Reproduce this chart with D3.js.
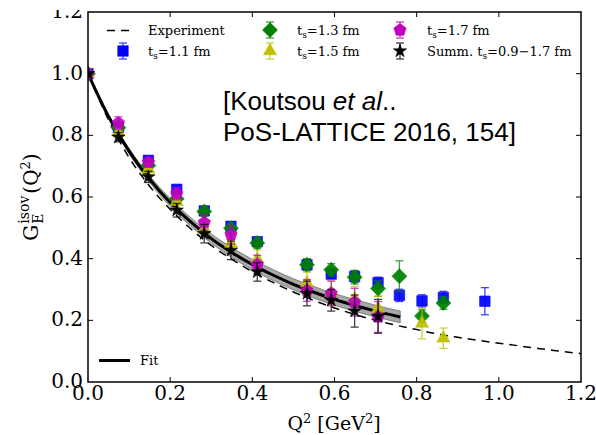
<!DOCTYPE html>
<html>
<head>
<meta charset="utf-8">
<script src="https://cdn.jsdelivr.net/npm/d3@7"></script>
<style>
  body { margin: 0; background: #fff; }
  svg { display: block; }
</style>
</head>
<body>
<script>
// momentum transfers (GeV^2) where the lattice points sit
var q2 = [0, 0.074, 0.147, 0.216, 0.283, 0.348, 0.412, 0.533, 0.592, 0.649, 0.706, 0.758, 0.813, 0.865, 0.966];

// t_s = 1.1 fm (blue squares), every q2
var g11 = [1.0, 0.825, 0.719, 0.625, 0.555, 0.505, 0.455, 0.38, 0.35, 0.342, 0.322, 0.281, 0.263, 0.274, 0.262];
var e11 = [0.003, 0.008, 0.01, 0.012, 0.012, 0.014, 0.014, 0.016, 0.016, 0.018, 0.018, 0.02, 0.02, 0.02, 0.044];

// t_s = 1.3 fm (green diamonds), q2 up to 0.865
var g13 = [1.0, 0.825, 0.702, 0.594, 0.553, 0.499, 0.451, 0.38, 0.364, 0.34, 0.303, 0.343, 0.214, 0.256];
var e13 = [0.004, 0.01, 0.012, 0.014, 0.015, 0.016, 0.017, 0.02, 0.02, 0.022, 0.025, 0.05, 0.02, 0.02];

// t_s = 1.5 fm (yellow triangles)
var q15 = [0, 0.074, 0.147, 0.216, 0.283, 0.348, 0.412, 0.533, 0.592, 0.649, 0.706, 0.813, 0.865];
var g15 = [1.0, 0.81, 0.69, 0.585, 0.497, 0.449, 0.398, 0.321, 0.29, 0.27, 0.238, 0.19, 0.142];
var e15 = [0.005, 0.015, 0.018, 0.02, 0.025, 0.027, 0.03, 0.035, 0.04, 0.04, 0.04, 0.05, 0.033];

// t_s = 1.7 fm (magenta pentagons), q2 up to 0.706
var g17 = [1.0, 0.84, 0.713, 0.611, 0.517, 0.478, 0.381, 0.297, 0.287, 0.259, 0.211];
var e17 = [0.005, 0.02, 0.015, 0.02, 0.025, 0.03, 0.03, 0.035, 0.04, 0.045, 0.05];

// summation method (black stars)
var gSum = [1.0, 0.794, 0.665, 0.557, 0.481, 0.427, 0.357, 0.287, 0.265, 0.23, 0.213];
var eSum = [0.005, 0.015, 0.018, 0.022, 0.03, 0.03, 0.03, 0.04, 0.035, 0.052, 0.055];

// fit curve + band
var fitQ2 = [0, 0.05, 0.1, 0.15, 0.2, 0.25, 0.3, 0.35, 0.4, 0.45, 0.5, 0.55, 0.6, 0.65, 0.7, 0.76];
var fitG  = [1.0, 0.861, 0.749, 0.658, 0.582, 0.519, 0.465, 0.42, 0.381, 0.347, 0.317, 0.291, 0.268, 0.248, 0.23, 0.211];
var fitErr = [0.003, 0.006, 0.009, 0.011, 0.013, 0.014, 0.015, 0.016, 0.017, 0.018, 0.018, 0.019, 0.019, 0.019, 0.019, 0.019];

// experiment (dashed)
var expQ2 = [0, 0.05, 0.1, 0.15, 0.2, 0.25, 0.3, 0.35, 0.4, 0.45, 0.5, 0.55, 0.6, 0.65, 0.7, 0.75, 0.8, 0.85, 0.9, 0.95, 1.0, 1.05, 1.1, 1.15, 1.2];
var expG  = [1.0, 0.85, 0.728, 0.635, 0.56, 0.497, 0.443, 0.398, 0.358, 0.323, 0.292, 0.264, 0.24, 0.219, 0.2, 0.184, 0.17, 0.156, 0.145, 0.135, 0.126, 0.117, 0.108, 0.1, 0.092];

var ticks = [0, 0.2, 0.4, 0.6, 0.8, 1.0, 1.2];

var width = 596, height = 435;
var serif = "'DejaVu Serif', serif";

var svg = d3.select("body").append("svg")
    .attr("width", width)
    .attr("height", height);

var x = d3.scaleLinear().domain([0, 1.2]).range([88, 581]);
var y = d3.scaleLinear().domain([0, 1.2]).range([382, 12]);

//clip for the plot area and for the half-cut top label
var defs = svg.append("defs");
defs.append("clipPath").attr("id", "plotclip")
    .append("rect").attr("x", 88).attr("y", 12).attr("width", 493).attr("height", 370);
defs.append("clipPath").attr("id", "topclip")
    .append("rect").attr("x", 0).attr("y", 10).attr("width", width).attr("height", height);

// markers
function diamond(s){
    return "M0," + (-s) + "L" + s + ",0L0," + s + "L" + (-s) + ",0Z";
}
function pentagon(r){
    var pts = d3.range(5).map(function(i){
        var a = -Math.PI / 2 + i * 2 * Math.PI / 5;
        return [r * Math.cos(a), r * Math.sin(a)];
    });
    return "M" + pts.join("L") + "Z";
}
var series = [
    {q: q2,  g: g11,  e: e11,  color: "#0000ff", path: d3.symbol(d3.symbolSquare, 110)(), label: "1.1 fm"},
    {q: q2,  g: g13,  e: e13,  color: "#008000", path: diamond(7.5), label: "1.3 fm"},
    {q: q15, g: g15,  e: e15,  color: "#bfbf00", path: d3.symbol(d3.symbolTriangle, 75)(), label: "1.5 fm"},
    {q: q2,  g: g17,  e: e17,  color: "#bf00bf", path: pentagon(6.5), label: "1.7 fm"},
    {q: q2,  g: gSum, e: eSum, color: "#000000", path: d3.symbol(d3.symbolStar, 55)(), label: "0.9\u22121.7 fm"}
];

var plot = svg.append("g").attr("clip-path", "url(#plotclip)");

// experiment dashed
plot.append("path")
    .datum(expQ2.map(function(d, i){ return [d, expG[i]]; }))
    .attr("fill", "none")
    .attr("stroke", "#000")
    .attr("stroke-width", 1.5)
    .attr("stroke-dasharray", "8,6")
    .attr("d", d3.line().x(function(d){ return x(d[0]); }).y(function(d){ return y(d[1]); }).curve(d3.curveMonotoneX));

// fit band + line
var fitData = fitQ2.map(function(d, i){ return {q: d, g: fitG[i], e: fitErr[i]}; });
plot.append("path")
    .datum(fitData)
    .attr("fill", "#a8a8a8")
    .attr("stroke", "#6e6e6e")
    .attr("stroke-width", 0.8)
    .attr("d", d3.area()
        .x(function(d){ return x(d.q); })
        .y0(function(d){ return y(d.g - d.e); })
        .y1(function(d){ return y(d.g + d.e); })
        .curve(d3.curveMonotoneX));
plot.append("path")
    .datum(fitData)
    .attr("fill", "none")
    .attr("stroke", "#000")
    .attr("stroke-width", 3)
    .attr("d", d3.line().x(function(d){ return x(d.q); }).y(function(d){ return y(d.g); }).curve(d3.curveMonotoneX));

// data points with error bars
series.forEach(function(s){
    var pts = s.g.map(function(v, i){ return {q: s.q[i], g: v, e: s.e[i]}; });
    var grp = plot.append("g");
    var eb = grp.selectAll(".eb").data(pts).enter().append("g")
        .attr("stroke", s.color)
        .attr("stroke-width", 1.3)
        .attr("opacity", 0.75);
    eb.append("line")
        .attr("x1", function(d){ return x(d.q); }).attr("x2", function(d){ return x(d.q); })
        .attr("y1", function(d){ return y(d.g - d.e); }).attr("y2", function(d){ return y(d.g + d.e); });
    eb.append("line")
        .attr("x1", function(d){ return x(d.q) - 4; }).attr("x2", function(d){ return x(d.q) + 4; })
        .attr("y1", function(d){ return y(d.g - d.e); }).attr("y2", function(d){ return y(d.g - d.e); });
    eb.append("line")
        .attr("x1", function(d){ return x(d.q) - 4; }).attr("x2", function(d){ return x(d.q) + 4; })
        .attr("y1", function(d){ return y(d.g + d.e); }).attr("y2", function(d){ return y(d.g + d.e); });
    grp.selectAll(".mk").data(pts).enter().append("path")
        .attr("d", s.path)
        .attr("transform", function(d){ return "translate(" + x(d.q) + "," + y(d.g) + ")"; })
        .attr("fill", s.color)
        .attr("stroke", s.color)
        .attr("stroke-width", 0.6)
        .attr("fill-opacity", 0.92);
});

// frame
svg.append("rect")
    .attr("x", 88).attr("y", 12).attr("width", 493).attr("height", 370)
    .attr("fill", "none").attr("stroke", "#000").attr("stroke-width", 1.5);

// inward ticks on all four sides
var tk = svg.append("g").attr("stroke", "#000").attr("stroke-width", 1);
ticks.slice(1, -1).forEach(function(t){
    tk.append("line").attr("x1", x(t)).attr("x2", x(t)).attr("y1", 382).attr("y2", 377);
    tk.append("line").attr("x1", x(t)).attr("x2", x(t)).attr("y1", 12).attr("y2", 17);
    tk.append("line").attr("x1", 88).attr("x2", 93).attr("y1", y(t)).attr("y2", y(t));
    tk.append("line").attr("x1", 581).attr("x2", 576).attr("y1", y(t)).attr("y2", y(t));
});

// tick labels
var lbl = svg.append("g").attr("font-family", serif).attr("font-size", 20).attr("fill", "#000");
lbl.selectAll(".xt").data(ticks).enter().append("text")
    .attr("x", function(d){ return x(d); })
    .attr("y", 400)
    .attr("text-anchor", "middle")
    .text(function(d){ return d.toFixed(1); });
lbl.selectAll(".yt").data(ticks).enter().append("text")
    .attr("x", 83)
    .attr("y", function(d){ return y(d) + 6; })
    .attr("text-anchor", "end")
    .attr("clip-path", "url(#topclip)")
    .text(function(d){ return d.toFixed(1); });

// x title
var xt = svg.append("text")
    .attr("x", 334).attr("y", 430)
    .attr("text-anchor", "middle")
    .attr("font-family", serif).attr("font-size", 19);
xt.append("tspan").text("Q");
xt.append("tspan").attr("font-size", 13).attr("dy", -7).text("2");
xt.append("tspan").attr("dy", 7).text(" [GeV");
xt.append("tspan").attr("font-size", 13).attr("dy", -7).text("2");
xt.append("tspan").attr("dy", 7).text("]");

// y title: G_E^isov(Q^2), stacked sub/sup
var yl = svg.append("g").attr("font-family", serif).attr("font-size", 20);
var yG = yl.append("text").attr("x", 0).attr("y", 0).text("G");
var wG = yG.node().getComputedTextLength();
var ySup = yl.append("text").attr("x", wG + 1).attr("y", -9).attr("font-size", 14).text("isov");
var ySub = yl.append("text").attr("x", wG + 1).attr("y", 5).attr("font-size", 14).text("E");
var wS = Math.max(ySup.node().getComputedTextLength(), ySub.node().getComputedTextLength());
var yQ = yl.append("text").attr("x", wG + wS + 3).attr("y", 0);
yQ.append("tspan").text("(Q");
yQ.append("tspan").attr("font-size", 13).attr("dy", -8).text("2");
yQ.append("tspan").attr("dy", 8).text(")");
var totalW = wG + wS + 3 + yQ.node().getComputedTextLength();
yl.attr("transform", "translate(38," + (197 + totalW / 2) + ") rotate(-90)");

// legend (top)
var leg = svg.append("g").attr("font-family", serif).attr("font-size", 13);
leg.append("line").attr("x1", 107).attr("x2", 134).attr("y1", 30.5).attr("y2", 30.5)
    .attr("stroke", "#000").attr("stroke-width", 1.5).attr("stroke-dasharray", "8,6");
leg.append("text").attr("x", 148).attr("y", 35).text("Experiment");

var legPos = [[123, 51], [270, 30], [270, 51], [400, 30], [400, 51]];
series.forEach(function(s, i){
    var px = legPos[i][0], py = legPos[i][1];
    var g = leg.append("g").attr("stroke", s.color).attr("stroke-width", 1.3).attr("opacity", 0.75);
    g.append("line").attr("x1", px).attr("x2", px).attr("y1", py - 8).attr("y2", py + 8);
    g.append("line").attr("x1", px - 4).attr("x2", px + 4).attr("y1", py - 8).attr("y2", py - 8);
    g.append("line").attr("x1", px - 4).attr("x2", px + 4).attr("y1", py + 8).attr("y2", py + 8);
    leg.append("path").attr("d", s.path)
        .attr("transform", "translate(" + px + "," + py + ")")
        .attr("fill", s.color).attr("stroke", s.color).attr("stroke-width", 0.6);
    var t = leg.append("text").attr("x", px + 25 + (i === 0 ? 0 : 2)).attr("y", py + 5);
    if (i === 4) t.append("tspan").text("Summ. ");
    t.append("tspan").text("t");
    t.append("tspan").attr("font-size", 9).attr("dy", 3).text("s");
    t.append("tspan").attr("dy", -3).text("=" + s.label);
});

// legend (fit)
leg.append("line").attr("x1", 99).attr("x2", 130).attr("y1", 360.5).attr("y2", 360.5)
    .attr("stroke", "#000").attr("stroke-width", 3);
leg.append("text").attr("x", 140).attr("y", 365).attr("font-size", 13).text("Fit");

// citation
var cite = svg.append("text")
    .attr("font-family", "'Liberation Sans', Arial, sans-serif")
    .attr("font-size", 26)
    .attr("fill", "#000");
var c1 = cite.append("tspan").attr("x", 223).attr("y", 110);
c1.append("tspan").text("[Koutsou ");
c1.append("tspan").attr("font-style", "italic").text("et al");
c1.append("tspan").text("..");
cite.append("tspan").attr("x", 223).attr("y", 141).text("PoS-LATTICE 2016, 154]");
</script>
</body>
</html>
